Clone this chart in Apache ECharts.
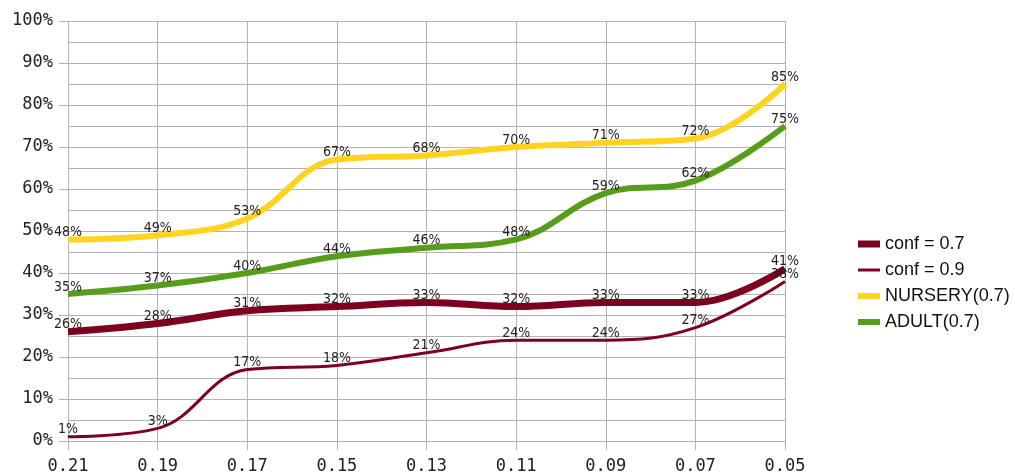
<!DOCTYPE html>
<html>
<head>
<meta charset="utf-8">
<script src="https://cdn.jsdelivr.net/npm/echarts@6/dist/echarts.min.js"></script>
<style>
  html, body { margin: 0; padding: 0; background: #fff; }
  #chart { width: 1015px; height: 475px; }
</style>
</head>
<body>
<div id="chart"></div>
<script>
// 横轴类别（支持度阈值）
const categories = ['0.21', '0.19', '0.17', '0.15', '0.13', '0.11', '0.09', '0.07', '0.05']

// 各系列数值（%）
const conf07 = [26, 28, 31, 32, 33, 32, 33, 33, 41]
const conf09 = [1, 3, 17, 18, 21, 24, 24, 27, 38]
const nursery = [48, 49, 53, 67, 68, 70, 71, 72, 85]
const adult = [35, 37, 40, 44, 46, 48, 59, 62, 75]

const gridColor = '#b3b3b3'
const darkRed = '#7e0021'

const labelStyle = {
  show: true,
  position: 'top',
  distance: 0,
  formatter: '{c}%',
  fontFamily: '"DejaVu Sans Condensed", "DejaVu Sans", sans-serif',
  fontSize: 14,
  color: '#222'
}

const makeSeries = (name, data, color, width) => ({
  name,
  type: 'line',
  data,
  smooth: 0.4,
  showSymbol: true,
  symbol: 'circle',
  symbolSize: 0,
  lineStyle: { color, width },
  itemStyle: { color },
  label: labelStyle,
  z: 3
})

// 图例：每项单独一个，以便设置不同的线宽
const legendRow = (name, color, thick, top) => ({
  data: [{ name, icon: 'rect', itemStyle: { color } }],
  left: 853,
  top,
  itemWidth: 22,
  itemHeight: thick,
  textStyle: {
    fontFamily: '"Liberation Sans", Arial, sans-serif',
    fontSize: 18,
    color: '#111'
  },
  selectedMode: false
})

const chart = echarts.init(document.getElementById('chart'))

chart.setOption({
  animation: false,
  grid: { left: 68, right: 230, top: 21, bottom: 34, containLabel: false },
  legend: [
    legendRow('conf = 0.7', darkRed, 7, 230),
    legendRow('conf = 0.9', darkRed, 3, 256),
    legendRow('NURSERY(0.7)', '#ffd320', 6, 282),
    legendRow('ADULT(0.7)', '#579d1c', 6, 308)
  ],
  xAxis: {
    type: 'category',
    boundaryGap: false,
    data: categories,
    axisLine: { lineStyle: { color: gridColor, width: 1 } },
    axisTick: { show: true, length: 9, interval: 0, lineStyle: { color: gridColor } },
    splitLine: { show: true, interval: 0, lineStyle: { color: gridColor, width: 1 } },
    axisLabel: {
      interval: 0,
      margin: 17,
      fontFamily: '"DejaVu Sans Mono", monospace',
      fontSize: 17,
      color: '#222'
    }
  },
  yAxis: {
    type: 'value',
    min: 0,
    max: 100,
    interval: 10,
    axisLine: { show: true, lineStyle: { color: gridColor } },
    axisTick: { show: true, length: 9, lineStyle: { color: gridColor } },
    splitLine: { show: true, lineStyle: { color: gridColor, width: 1 } },
    minorTick: { show: false, splitNumber: 2 },
    minorSplitLine: { show: true, lineStyle: { color: gridColor, width: 1 } },
    axisLabel: {
      margin: 15,
      formatter: '{value}%',
      fontFamily: '"DejaVu Sans Mono", monospace',
      fontSize: 17,
      color: '#222'
    }
  },
  series: [
    makeSeries('conf = 0.7', conf07, darkRed, 7),
    makeSeries('conf = 0.9', conf09, darkRed, 3),
    makeSeries('NURSERY(0.7)', nursery, '#ffd320', 6),
    makeSeries('ADULT(0.7)', adult, '#579d1c', 6)
  ]
})
</script>
</body>
</html>
